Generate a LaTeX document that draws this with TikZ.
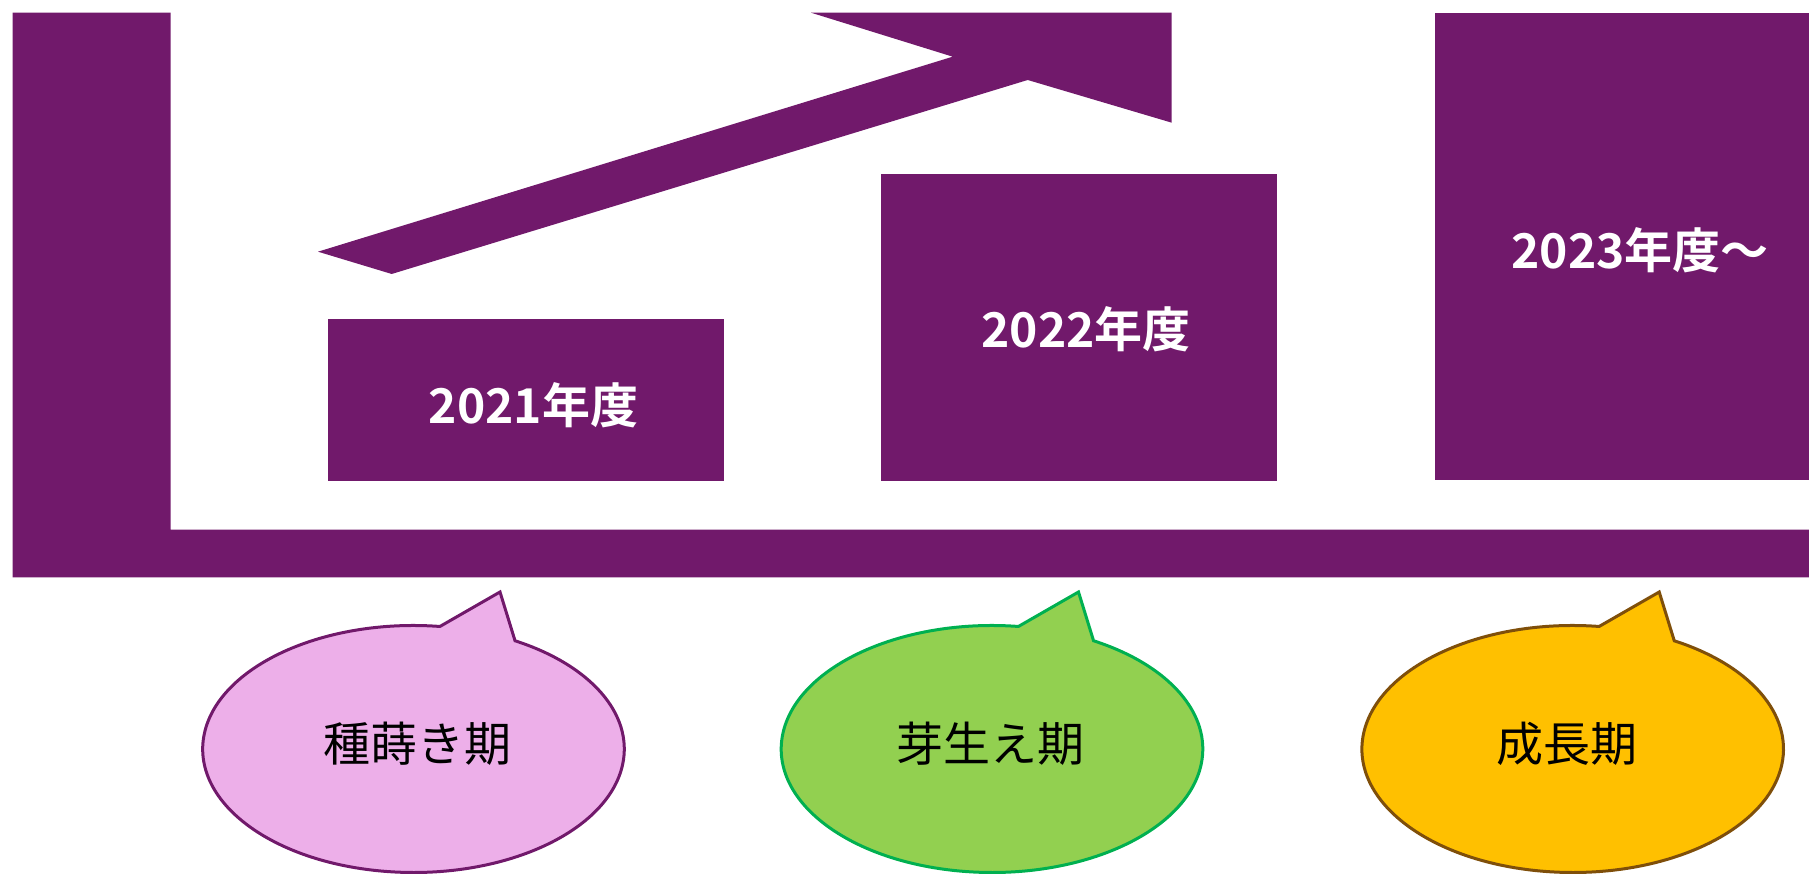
\documentclass[tikz,border=0pt]{standalone}
\usepackage{fontspec}
\newfontfamily\jp{Noto Sans CJK JP}
\newfontfamily\jpb{Noto Sans CJK JP Bold}
\definecolor{pp}{HTML}{71196B}
\definecolor{pinkfill}{HTML}{EDAFE9}
\definecolor{greenfill}{HTML}{92D050}
\definecolor{greenline}{HTML}{00B050}
\definecolor{goldfill}{HTML}{FFC000}
\definecolor{brownline}{HTML}{7F4F0A}
\tikzset{
  yearbox/.style={fill=pp, draw=none, inner sep=0pt},
  yeartext/.style={text=white, inner sep=0pt, font=\jpb\fontsize{48}{56}\selectfont},
  phasetext/.style={text=black, inner sep=0pt, font=\jp\fontsize{47}{56}\selectfont},
  bubble/.style={line width=3pt, line join=miter},
}
\begin{document}
\begin{tikzpicture}[x=1pt,y=1pt]
\useasboundingbox (0,0) rectangle (1809,874);
% L-shaped frame
\fill[pp] (12.5,861.3) -- (170.7,861.3) -- (170.7,344.4) -- (1809,344.4) -- (1809,296.7) -- (12.5,296.7) -- cycle;
% rising arrow
\fill[pp] (318,622.3) -- (391.7,600) -- (1027.7,794) -- (1171.7,751.3) -- (1171.7,861.3) -- (811,861.3) -- (952.7,817.3) -- cycle;
% year boxes
\node[yearbox, minimum width=395.7pt, minimum height=161.7pt] (b2021) at (525.8,474.2) {};
\node[yearbox, minimum width=395.7pt, minimum height=306.3pt] (b2022) at (1079.2,546.6) {};
\node[yearbox, minimum width=374pt, minimum height=467.8pt] (b2023) at (1622,627.4) {};
\node[yeartext] (t2021) at (533.5,469) {2021年度};
\node[yeartext] (t2022) at (1086,545) {2022年度};
\node[yeartext] (t2023) at (1640,624) {2023年度～};
% callouts
\coordinate (c1) at (413.5,125);
\coordinate (c2) at (992,125);
\coordinate (c3) at (1572.7,125);
\draw[bubble, fill=pinkfill, draw=pp] (c1) ++(82.8:210.8pt and 123.5pt) arc[start angle=82.8, end angle=421.2, x radius=210.8pt, y radius=123.5pt] -- ([shift={(86.5,157)}]c1) -- cycle;
\draw[bubble, fill=greenfill, draw=greenline] (c2) ++(82.8:210.8pt and 123.5pt) arc[start angle=82.8, end angle=421.2, x radius=210.8pt, y radius=123.5pt] -- ([shift={(86.5,157)}]c2) -- cycle;
\draw[bubble, fill=goldfill, draw=brownline] (c3) ++(82.8:210.8pt and 123.5pt) arc[start angle=82.8, end angle=421.2, x radius=210.8pt, y radius=123.5pt] -- ([shift={(86.5,157)}]c3) -- cycle;
\node[phasetext] (p1) at (417,130) {種蒔き期};
\node[phasetext] (p2) at (990,130) {芽生え期};
\node[phasetext] (p3) at (1567,130) {成長期};
\end{tikzpicture}
\end{document}
